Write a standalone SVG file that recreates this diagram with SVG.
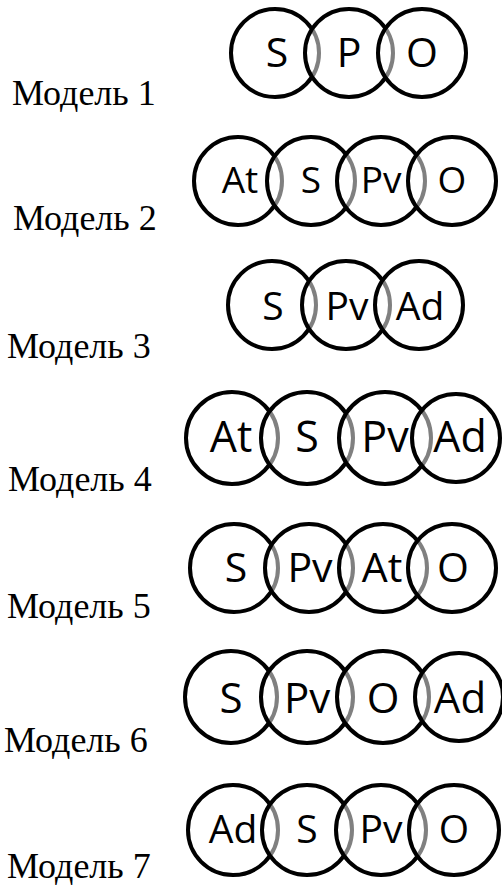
<svg xmlns="http://www.w3.org/2000/svg" width="502" height="885" viewBox="0 0 502 885">
  <style>
    .bg { fill: #ffffff; }
    .label { font-family: "Liberation Serif", "Times New Roman", serif; font-size: 36px; fill: #000000; }
    .ring { fill: #ffffff; fill-opacity: 0.5; stroke: #000000; stroke-width: 4; }
    .term { font-family: "Open Sans", "Noto Sans", "Liberation Sans", sans-serif; fill: #000000; text-anchor: middle; }
  </style>
  <rect class="bg" x="0" y="0" width="502" height="885"/>

  <!-- Model 1: S P O -->
  <g id="model-1">
    <text class="label" x="12" y="105">Модель 1</text>
    <circle class="ring" cx="275" cy="53" r="44"/>
    <circle class="ring" cx="349" cy="53" r="44"/>
    <circle class="ring" cx="422" cy="53" r="44"/>
    <g class="term" font-size="41">
      <text x="277" y="67">S</text>
      <text x="349" y="67">P</text>
      <text x="422" y="67">O</text>
    </g>
  </g>

  <!-- Model 2: At S Pv O -->
  <g id="model-2">
    <text class="label" x="13" y="230">Модель 2</text>
    <circle class="ring" cx="238" cy="181" r="44"/>
    <circle class="ring" cx="311" cy="181" r="44"/>
    <circle class="ring" cx="381" cy="181" r="44"/>
    <circle class="ring" cx="452" cy="181" r="44"/>
    <g class="term" font-size="37">
      <text x="240" y="193">At</text>
      <text x="311" y="193">S</text>
      <text x="381" y="193">Pv</text>
      <text x="452" y="193">O</text>
    </g>
  </g>

  <!-- Model 3: S Pv Ad -->
  <g id="model-3">
    <text class="label" x="7" y="358">Модель 3</text>
    <circle class="ring" cx="272" cy="305" r="44"/>
    <circle class="ring" cx="346" cy="305" r="44"/>
    <circle class="ring" cx="419" cy="305" r="44"/>
    <g class="term" font-size="39">
      <text x="273" y="320">S</text>
      <text x="347" y="320">Pv</text>
      <text x="420" y="320">Ad</text>
    </g>
  </g>

  <!-- Model 4: At S Pv Ad -->
  <g id="model-4">
    <text class="label" x="8" y="491">Модель 4</text>
    <circle class="ring" cx="232" cy="438" r="46"/>
    <circle class="ring" cx="307" cy="438" r="46"/>
    <circle class="ring" cx="385" cy="438" r="46"/>
    <circle class="ring" cx="456" cy="438" r="44"/>
    <g class="term" font-size="43">
      <text x="231" y="452">At</text>
      <text x="307" y="452">S</text>
      <text x="385" y="452">Pv</text>
      <text x="460" y="452">Ad</text>
    </g>
  </g>

  <!-- Model 5: S Pv At O -->
  <g id="model-5">
    <text class="label" x="7" y="618">Модель 5</text>
    <circle class="ring" cx="234" cy="568" r="44"/>
    <circle class="ring" cx="309" cy="568" r="44"/>
    <circle class="ring" cx="383" cy="568" r="44"/>
    <circle class="ring" cx="452" cy="568" r="44"/>
    <g class="term" font-size="41">
      <text x="236" y="582">S</text>
      <text x="310" y="582">Pv</text>
      <text x="382" y="582">At</text>
      <text x="453" y="582">O</text>
    </g>
  </g>

  <!-- Model 6: S Pv O Ad -->
  <g id="model-6">
    <text class="label" x="4" y="752">Модель 6</text>
    <circle class="ring" cx="231" cy="697" r="46"/>
    <circle class="ring" cx="307" cy="697" r="46"/>
    <circle class="ring" cx="383" cy="697" r="46"/>
    <circle class="ring" cx="459" cy="697" r="44"/>
    <g class="term" font-size="42">
      <text x="231" y="713">S</text>
      <text x="307" y="713">Pv</text>
      <text x="383" y="713">O</text>
      <text x="460" y="713">Ad</text>
    </g>
  </g>

  <!-- Model 7: Ad S Pv O -->
  <g id="model-7">
    <text class="label" x="7" y="878">Модель 7</text>
    <circle class="ring" cx="233" cy="830" r="45"/>
    <circle class="ring" cx="307" cy="830" r="45"/>
    <circle class="ring" cx="381" cy="830" r="45"/>
    <circle class="ring" cx="454" cy="830" r="45"/>
    <g class="term" font-size="39">
      <text x="233" y="843">Ad</text>
      <text x="307" y="843">S</text>
      <text x="381" y="843">Pv</text>
      <text x="454" y="843">O</text>
    </g>
  </g>
</svg>
